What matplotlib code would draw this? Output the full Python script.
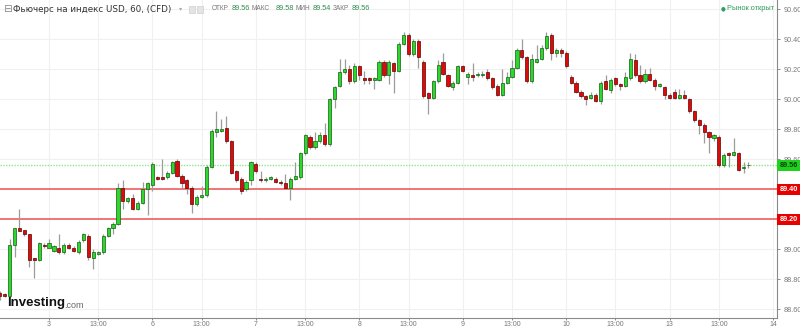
import matplotlib
matplotlib.use("Agg")
import matplotlib.pyplot as plt
import matplotlib.transforms as mtransforms
from matplotlib.patches import Rectangle
import numpy as np

# hourly bars; index 0 is the first bar of day "3"
first_bar = -10
opens = [
    88.71, 88.70, 88.69, 89.03, 89.14, 89.13, 89.10, 88.94, 88.93, 89.03,
    89.01, 88.99, 89.01, 88.98, 89.03, 89.01, 88.98, 89.06, 89.09, 88.94, 88.97,
    88.98, 89.09, 89.14, 89.17, 89.41, 89.32, 89.34, 89.27, 89.31, 89.40,
    89.43, 89.48, 89.48, 89.48, 89.51, 89.59, 89.49, 89.46, 89.41, 89.30, 89.35,
    89.36, 89.55, 89.78, 89.79, 89.81, 89.72, 89.52, 89.47, 89.40, 89.46,
    89.57, 89.47, 89.46, 89.47, 89.47, 89.45, 89.44, 89.41, 89.47, 89.48, 89.64,
    89.75, 89.68, 89.72, 89.76, 89.70, 90.00, 90.09, 90.18, 90.20, 90.12,
    90.22, 90.14, 90.14, 90.13, 90.13, 90.25, 90.16, 90.24, 90.19, 90.37, 90.43,
    90.30, 90.39, 90.25, 90.04, 90.01, 90.12, 90.25, 90.16, 90.08, 90.11,
    90.22, 90.15, 90.16, 90.16, 90.16, 90.18, 90.14, 90.09, 90.03, 90.11, 90.15,
    90.21, 90.33, 90.28, 90.12, 90.25, 90.27, 90.34, 90.43, 90.31, 90.33,
    90.31, 90.15, 90.11, 90.05, 90.02, 90.01, 90.03, 89.99, 90.12, 90.06, 90.14,
    90.10, 90.09, 90.14, 90.26, 90.16, 90.12, 90.17, 90.13, 90.09, 90.08,
    90.03, 90.05, 90.01, 90.03, 90.00, 89.92, 89.86, 89.83, 89.78, 89.74, 89.75,
    89.56, 89.64, 89.63, 89.64, 89.54, 89.56,
]
highs = [
    88.72, 88.71, 89.07, 89.14, 89.27, 89.13, 89.10, 88.94, 89.05, 89.04,
    89.07, 89.03, 89.10, 89.04, 89.04, 89.02, 89.06, 89.11, 89.10, 89.00, 88.99,
    89.10, 89.15, 89.18, 89.44, 89.46, 89.35, 89.37, 89.32, 89.45, 89.45,
    89.58, 89.49, 89.60, 89.52, 89.59, 89.60, 89.50, 89.47, 89.42, 89.36, 89.42,
    89.56, 89.80, 89.92, 89.87, 89.89, 89.73, 89.53, 89.48, 89.46, 89.59,
    89.58, 89.52, 89.48, 89.49, 89.48, 89.46, 89.50, 89.48, 89.58, 89.65, 89.77,
    89.76, 89.78, 89.78, 89.84, 90.01, 90.09, 90.27, 90.27, 90.23, 90.24,
    90.23, 90.19, 90.15, 90.15, 90.26, 90.26, 90.26, 90.25, 90.38, 90.45, 90.44,
    90.40, 90.40, 90.26, 90.05, 90.13, 90.26, 90.31, 90.17, 90.12, 90.23,
    90.23, 90.18, 90.24, 90.18, 90.19, 90.20, 90.15, 90.10, 90.20, 90.18, 90.26,
    90.34, 90.40, 90.29, 90.30, 90.36, 90.36, 90.45, 90.44, 90.34, 90.34,
    90.32, 90.16, 90.12, 90.06, 90.03, 90.05, 90.04, 90.12, 90.16, 90.14, 90.15,
    90.11, 90.18, 90.31, 90.30, 90.23, 90.20, 90.21, 90.14, 90.11, 90.09,
    90.04, 90.07, 90.07, 90.06, 90.01, 89.93, 89.87, 89.84, 89.79, 89.77, 89.76,
    89.64, 89.65, 89.74, 89.65, 89.58, 89.58,
]
lows = [
    88.66, 88.68, 88.68, 88.95, 89.12, 89.09, 88.88, 88.81, 88.92, 89.01,
    89.01, 88.98, 88.97, 88.97, 89.00, 88.98, 88.97, 89.05, 88.93, 88.87, 88.96,
    88.97, 89.08, 89.10, 89.16, 89.27, 89.31, 89.26, 89.26, 89.30, 89.23,
    89.39, 89.46, 89.46, 89.47, 89.50, 89.48, 89.41, 89.37, 89.24, 89.29, 89.34,
    89.35, 89.54, 89.75, 89.78, 89.71, 89.50, 89.45, 89.37, 89.39, 89.43,
    89.51, 89.45, 89.45, 89.46, 89.44, 89.43, 89.40, 89.33, 89.46, 89.47, 89.63,
    89.67, 89.67, 89.71, 89.69, 89.69, 89.94, 90.08, 90.17, 90.10, 90.11,
    90.13, 90.10, 90.10, 90.07, 90.12, 90.15, 90.10, 90.04, 90.18, 90.36, 90.29,
    90.29, 90.21, 90.01, 89.90, 90.00, 90.11, 90.16, 90.08, 90.06, 90.10,
    90.18, 90.10, 90.12, 90.15, 90.15, 90.13, 90.07, 90.02, 90.02, 90.10, 90.14,
    90.20, 90.27, 90.11, 90.11, 90.24, 90.26, 90.33, 90.26, 90.28, 90.28,
    90.21, 90.10, 90.04, 90.01, 89.96, 90.00, 89.98, 89.97, 90.06, 90.04, 90.09,
    90.06, 90.08, 90.13, 90.15, 90.11, 90.11, 90.12, 90.06, 90.08, 90.00,
    90.00, 90.00, 90.00, 90.00, 89.91, 89.85, 89.77, 89.71, 89.64, 89.72, 89.55,
    89.55, 89.55, 89.62, 89.52, 89.51, 89.54,
]
closes = [
    88.69, 88.69, 89.03, 89.14, 89.12, 89.10, 88.93, 88.93, 89.04, 89.02,
    89.04, 89.02, 88.98, 89.03, 89.01, 88.99, 89.05, 89.10, 88.95, 88.98, 88.98,
    89.09, 89.14, 89.17, 89.41, 89.32, 89.34, 89.27, 89.31, 89.40, 89.44,
    89.57, 89.47, 89.47, 89.51, 89.58, 89.49, 89.44, 89.41, 89.30, 89.35, 89.36,
    89.55, 89.79, 89.80, 89.80, 89.72, 89.51, 89.46, 89.39, 89.45, 89.58,
    89.52, 89.46, 89.47, 89.48, 89.45, 89.44, 89.41, 89.47, 89.49, 89.64, 89.76,
    89.68, 89.72, 89.76, 89.70, 90.00, 90.08, 90.18, 90.20, 90.12, 90.22,
    90.16, 90.13, 90.13, 90.14, 90.25, 90.16, 90.25, 90.19, 90.37, 90.43, 90.30,
    90.39, 90.28, 90.02, 90.01, 90.12, 90.23, 90.17, 90.09, 90.11, 90.22,
    90.19, 90.17, 90.15, 90.17, 90.17, 90.14, 90.08, 90.03, 90.11, 90.15, 90.21,
    90.33, 90.28, 90.12, 90.27, 90.27, 90.34, 90.42, 90.31, 90.33, 90.31,
    90.22, 90.11, 90.05, 90.02, 90.00, 90.03, 89.99, 90.11, 90.07, 90.13, 90.10,
    90.09, 90.15, 90.27, 90.16, 90.12, 90.17, 90.13, 90.09, 90.10, 90.03,
    90.01, 90.01, 90.03, 90.01, 89.92, 89.86, 89.83, 89.78, 89.75, 89.76, 89.56,
    89.63, 89.63, 89.65, 89.53, 89.55, 89.56,
]

tick_pos = [0, 10, 21, 31, 42, 52, 63, 73, 84, 94, 105, 115, 126, 136, 147]
tick_labels = ["3", "13:00", "6", "13:00", "7", "13:00", "8", "13:00",
               "9", "13:00", "10", "13:00", "13", "13:00", "14"]
price_ticks = [88.60, 88.80, 89.00, 89.20, 89.40, 89.60, 89.80, 90.00,
               90.20, 90.40, 90.60]
last_price = 89.56
levels = [89.40, 89.20]

title = "Фьючерс на индекс USD, 60, (CFD)"
ohlc_names = ["ОТКР", "МАКС", "МИН", "ЗАКР"]
ohlc_values = ["89.56", "89.58", "89.54", "89.56"]
status = "Рынок открыт"

W, H = 800, 328
fig = plt.figure(figsize=(W / 100, H / 100), dpi=100)
ax = fig.add_axes([0, 10 / H, 777 / W, 318 / H])
ax.set_xlim(-9.95, 147.8)
ax.set_ylim(88.542, 90.662)

o = np.array(opens)
h = np.array(highs)
lo = np.array(lows)
c = np.array(closes)
x = np.arange(first_bar, first_bar + len(o))
up = c >= o

for xv in tick_pos:
    ax.axvline(xv, color="#f0f0f0", lw=0.8, zorder=0)
for yv in price_ticks:
    ax.axhline(yv, color="#f0f0f0", lw=0.8, zorder=0)

ax.vlines(x, lo, h, color="#9c9c9c", lw=0.9, zorder=2)
body_lo = np.minimum(o, c)
body_h = np.maximum(np.abs(c - o), 0.005)
ax.bar(x[up], body_h[up], bottom=body_lo[up], width=0.64,
       color="#2ed62e", edgecolor="#0f5f0f", lw=0.5, zorder=3)
ax.bar(x[~up], body_h[~up], bottom=body_lo[~up], width=0.64,
       color="#dd0a0a", edgecolor="#600000", lw=0.5, zorder=3)

ax.axhline(last_price, color="#8ee58e", lw=1.0, ls=(0, (1, 1)), zorder=1)
for lv in levels:
    ax.axhline(lv, color="#f06a6a", lw=1.3, zorder=1)

for s in ["top", "left"]:
    ax.spines[s].set_visible(False)
ax.spines["right"].set_color("#8a8a8a")
ax.spines["bottom"].set_color("#8a8a8a")

lab_font = {"family": "Liberation Sans", "size": 5.2}
ax.yaxis.tick_right()
ax.set_yticks(price_ticks)
# labels at the level lines are hidden under the coloured price boxes
ax.set_yticklabels(["" if round(p, 2) in levels else f"{p:.2f}"
                    for p in price_ticks], **lab_font)
ax.set_xticks(tick_pos)
ax.set_xticklabels(tick_labels, family="Liberation Sans", size=5.0)
ax.tick_params(axis="y", colors="#777777", length=2.5, pad=2, width=0.6)
ax.tick_params(axis="x", colors="#777777", length=1.5, pad=0.3, width=0.6)

# price labels on the right axis
blend = mtransforms.blended_transform_factory(ax.transAxes, ax.transData)
for val, fc, tc in [(last_price, "#1ed21e", "#0d3d0d"),
                    (levels[0], "#e60000", "white"),
                    (levels[1], "#e60000", "white")]:
    ax.text(1.003, val, f"{val:.2f}", transform=blend, ha="left", va="center",
            color=tc, fontweight="bold", clip_on=False, zorder=6,
            bbox=dict(boxstyle="square,pad=0.3", fc=fc, ec="none"),
            **lab_font)


def px(xp, yp):
    return xp / W, 1 - yp / H


# header
fig.text(*px(3, 9), "⊟", fontsize=7.5, color="#888888", va="center",
         family="DejaVu Sans")
fig.text(*px(13, 9), title, fontsize=6.3, color="#333333", va="center",
         family="DejaVu Sans")
fig.text(*px(179, 9), "▾", fontsize=4.5, color="#aaaaaa", va="center",
         family="DejaVu Sans")
for x0 in (189, 197):
    fig.patches.append(Rectangle(px(x0, 13), 6 / W, 7 / H, transform=fig.transFigure,
                                 fc="#e4e4e4", ec="#cfcfcf", lw=0.5))
name_x = [212, 252, 296, 333]
value_x = [232, 276, 313, 352]
for nx, vx, name, val in zip(name_x, value_x, ohlc_names, ohlc_values):
    fig.text(*px(nx, 9), name, fontsize=4.7, color="#777777", va="center",
             family="Liberation Sans")
    fig.text(*px(vx, 9), val, fontsize=5.2, color="#2f8f4f", va="center",
             family="Liberation Sans")
fig.text(*px(721, 9), "●", fontsize=4, color="#2f9f5f", va="center",
         family="DejaVu Sans")
fig.text(*px(727, 9), status, fontsize=5.3, color="#2f9f5f", va="center",
         family="Liberation Sans")

# watermark
fig.text(*px(7, 303), "Investing", fontsize=9.5, fontweight="bold",
         color="#111111", va="center", family="Liberation Sans")
fig.text(*px(64, 305), ".com", fontsize=6.5, color="#666666", va="center",
         family="Liberation Sans")

fig.savefig("out.png", dpi=100)
